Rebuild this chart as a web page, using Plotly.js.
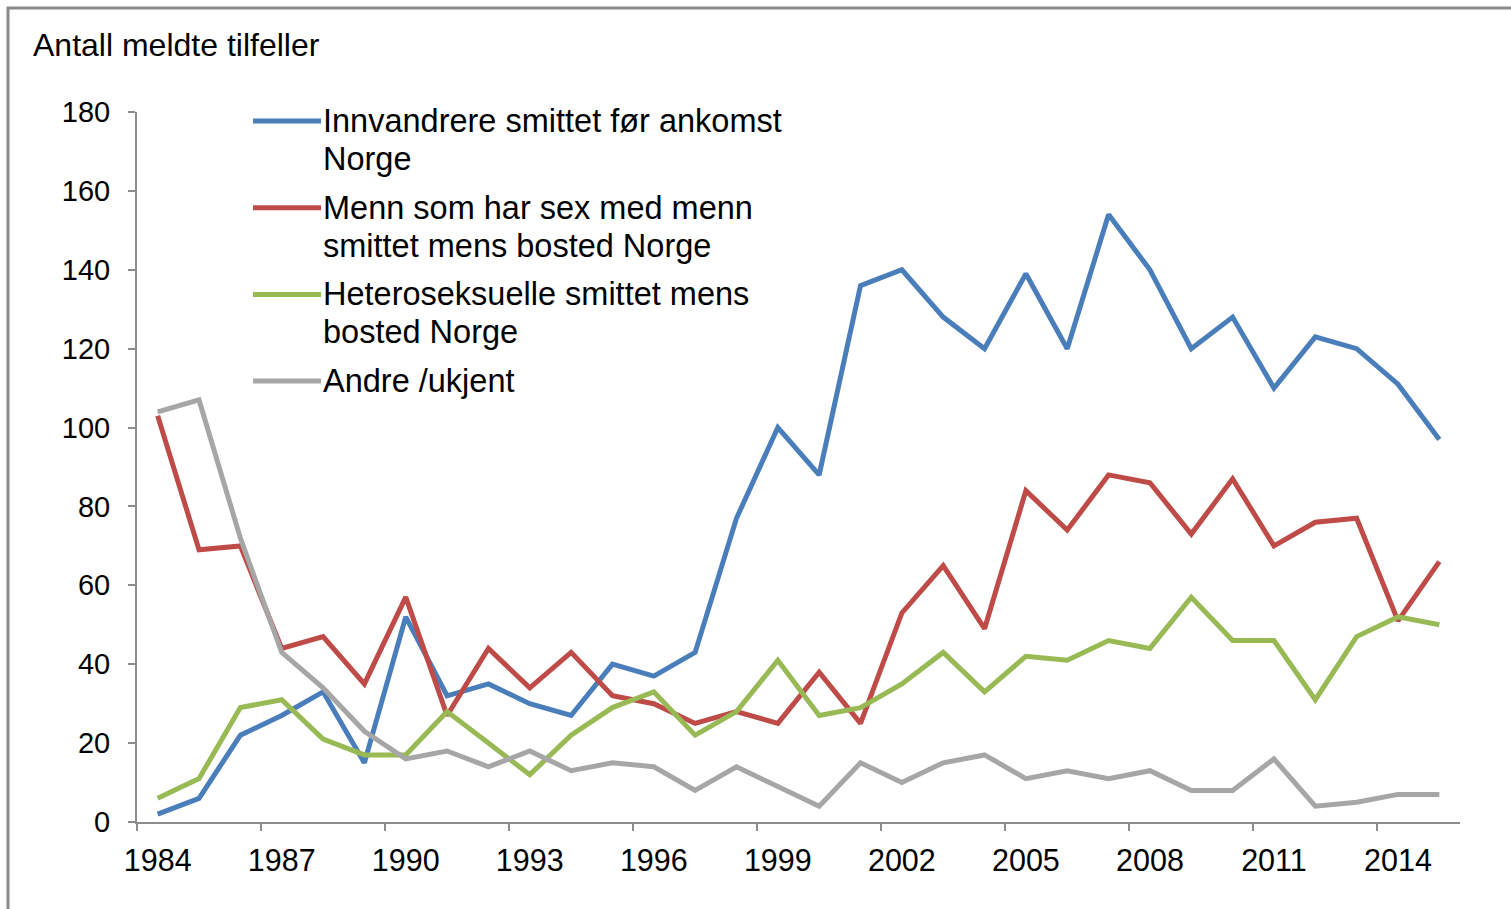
<!DOCTYPE html>
<html>
<head>
<meta charset="utf-8">
<script src="https://cdn.plot.ly/plotly-3.0.1.min.js"></script>
<style>
  html, body { margin: 0; padding: 0; background: #ffffff; }
  #chart { width: 1511px; height: 909px; }
</style>
</head>
<body>
<div id="chart"></div>
<script>
// ---- Data ----
const years = [1984,1985,1986,1987,1988,1989,1990,1991,1992,1993,1994,1995,1996,1997,1998,1999,
               2000,2001,2002,2003,2004,2005,2006,2007,2008,2009,2010,2011,2012,2013,2014,2015];
const innvandrere = [2,6,22,27,33,15,52,32,35,30,27,40,37,43,77,100,
                     88,136,140,128,120,139,120,154,140,120,128,110,123,120,111,97];
const msm = [103,69,70,44,47,35,57,27,44,34,43,32,30,25,28,25,
             38,25,53,65,49,84,74,88,86,73,87,70,76,77,51,66];
const hetero = [6,11,29,31,21,17,17,28,20,12,22,29,33,22,28,41,
                27,29,35,43,33,42,41,46,44,57,46,46,31,47,52,50];
const andre = [104,107,72,43,34,23,16,18,14,18,13,15,14,8,14,9,
               4,15,10,15,17,11,13,11,13,8,8,16,4,5,7,7];
const seriesNames = [
  ["Innvandrere smittet før ankomst", "Norge"],
  ["Menn som har sex med menn", "smittet mens bosted Norge"],
  ["Heteroseksuelle smittet mens", "bosted Norge"],
  ["Andre /ukjent"]
];
const xTickLabels = ["1984","1987","1990","1993","1996","1999","2002","2005","2008","2011","2014"];
const yTitle = "Antall meldte tilfeller";

// ---- Styling ----
const colors = ["#4A7EBB", "#BE4B48", "#98B954", "#A6A6A6"];
const seriesData = [innvandrere, msm, hetero, andre];
const FONT = "Liberation Sans, Arial, sans-serif";
const W = 1511, H = 909;
const M = {l: 137, r: 51, t: 112, b: 87};
const PW = W - M.l - M.r, PH = H - M.t - M.b;
const px = x => (x - M.l) / PW;         // pixel x -> paper x
const py = y => (H - M.b - y) / PH;     // pixel y -> paper y

const traces = seriesData.map((d, i) => ({
  x: years, y: d, type: "scatter", mode: "lines",
  name: seriesNames[i].join(" "),
  line: {color: colors[i], width: 5},
  hoverinfo: "x+y+name"
}));

const tickVals = xTickLabels.map(Number);
const boundaries = [];
for (let v = years[0] - 0.5; v < years[years.length - 1]; v += 3) boundaries.push(v);

const shapes = [];
const annotations = [];
// frame
shapes.push({
  type: "path", xref: "paper", yref: "paper",
  path: `M ${px(8)} ${py(H + 20)} L ${px(8)} ${py(8)} L ${px(W + 20)} ${py(8)}`,
  line: {color: "#8a8a8a", width: 3}
});
// y title
annotations.push({
  xref: "paper", yref: "paper", x: px(31), y: py(45),
  xanchor: "left", yanchor: "middle", showarrow: false,
  text: yTitle, font: {family: FONT, size: 32, color: "#000"}
});
// legend (custom)
const legTop = 121, legStep = 86.7, lineGap = 38;
seriesNames.forEach((lines, i) => {
  const y0 = legTop + i * legStep;
  shapes.push({
    type: "line", xref: "paper", yref: "paper",
    x0: px(253), x1: px(321), y0: py(y0), y1: py(y0),
    line: {color: colors[i], width: 5}
  });
  lines.forEach((t, j) => {
    annotations.push({
      xref: "paper", yref: "paper", x: px(321), y: py(y0 + j * lineGap),
      xanchor: "left", yanchor: "middle", showarrow: false,
      text: t, font: {family: FONT, size: 32.5, color: "#000"}
    });
  });
});

const layout = {
  width: W, height: H,
  margin: M,
  paper_bgcolor: "#ffffff", plot_bgcolor: "#ffffff",
  showlegend: false,
  font: {family: FONT, color: "#000"},
  xaxis: {
    type: "linear", range: [years[0] - 0.5, years[years.length - 1] + 0.5],
    tickmode: "array", tickvals: tickVals, ticktext: xTickLabels,
    ticks: "outside", ticklen: 0, tickcolor: "#ffffff",
    ticklabelstandoff: 10,
    minor: {tickmode: "array", tickvals: boundaries, ticks: "outside", ticklen: 7, tickcolor: "#8c8c8c", tickwidth: 1.5, showgrid: false},
    showgrid: false, zeroline: false,
    showline: true, linecolor: "#8c8c8c", linewidth: 2,
    tickfont: {family: FONT, size: 30.5, color: "#000"},
    fixedrange: true
  },
  yaxis: {
    range: [0, 180], tickmode: "linear", tick0: 0, dtick: 20,
    ticks: "outside", ticklen: 7, tickcolor: "#8c8c8c", tickwidth: 1.5,
    ticklabelstandoff: 12,
    showgrid: false, zeroline: false,
    showline: true, linecolor: "#8c8c8c", linewidth: 2,
    tickfont: {family: FONT, size: 29, color: "#000"},
    fixedrange: true
  },
  shapes: shapes,
  annotations: annotations
};

Plotly.newPlot("chart", traces, layout, {displayModeBar: false, staticPlot: false});
</script>
</body>
</html>
